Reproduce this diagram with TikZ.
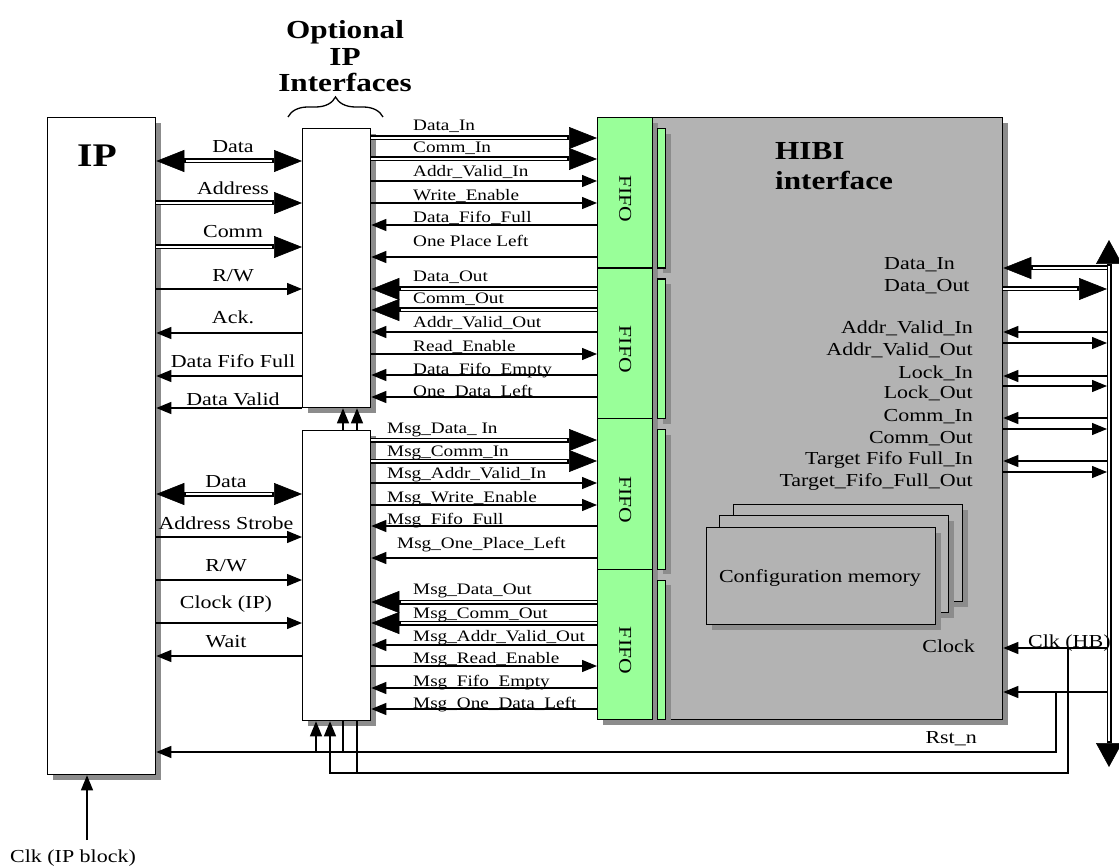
\documentclass[tikz,border=0pt]{standalone}
\usepackage{fontspec}
\setmainfont{Liberation Serif}[FakeStretch=1.2]
\usetikzlibrary{arrows.meta,shadows,decorations.pathreplacing}

\definecolor{fifogreen}{RGB}{153,255,153}
\definecolor{hibigray}{RGB}{179,179,179}

\tikzset{
  hsmall/.tip={Triangle[length=15pt,width=12pt]},
  hbig/.tip={Triangle[length=28pt,width=22pt,line width=0.6pt]},
  hbus/.tip={Triangle[length=24pt,width=26pt,line width=0.6pt]},
  boxshadow/.style={drop shadow={shadow xshift=5pt,shadow yshift=-5pt,opacity=1,fill=black!45}},
  box/.style={draw,line width=1.3pt,fill=white,anchor=north west,inner sep=0pt,boxshadow},
  fifobox/.style={box,fill=fifogreen,minimum width=55pt,minimum height=150.5pt},
  strip/.style={box,fill=fifogreen,minimum width=8pt,minimum height=139.5pt},
  cfgbox/.style={box,fill=hibigray,minimum width=229pt,minimum height=97pt},
  sigN/.style={line width=1.2pt},
  sigR/.style={sigN,-{hsmall}},
  sigL/.style={sigN,{hsmall}-},
  busR/.style={line width=5pt,-{hbig},postaction={draw=white,line width=2.6pt,-,shorten >=30pt}},
  busL/.style={line width=5pt,{hbig}-,postaction={draw=white,line width=2.6pt,-,shorten <=30pt}},
  busLR/.style={line width=5pt,{hbig}-{hbig},postaction={draw=white,line width=2.6pt,-,shorten <=30pt,shorten >=30pt}},
  busV/.style={line width=5pt,{hbus}-{hbus},postaction={draw=white,line width=2.6pt,-,shorten <=26pt,shorten >=26pt}},
  midlbl/.style={font=\fontsize{16}{19}\selectfont,anchor=base west,inner sep=0pt},
  sidelbl/.style={font=\fontsize{18.3}{22}\selectfont,anchor=base,inner sep=0pt},
  hiblbl/.style={font=\fontsize{18.3}{22}\selectfont,anchor=base east,inner sep=0pt},
  title/.style={font=\bfseries\fontsize{26}{30}\selectfont,inner sep=0pt},
}

\begin{document}
\begin{tikzpicture}[x=1pt,y=-1pt]
  \useasboundingbox (0,0) rectangle (1119,866);

  %=====================================================================
  % Blocks
  %=====================================================================
  \node[box,minimum width=108pt,minimum height=657pt] (ip) at (47,117) {};
  \node[box,minimum width=68pt,minimum height=279pt] (ifA) at (302,128) {};
  \node[box,minimum width=68pt,minimum height=290pt] (ifB) at (302,430) {};
  \node[box,fill=hibigray,minimum width=405pt,minimum height=602pt] (hibi) at (597,117) {};

  % FIFO column with thin buffers beside it
  \foreach \i in {1,...,4} {
    \node[fifobox] (fifo\i) at (597,{117+150.5*(\i-1)}) {};
    \node[strip] (buf\i) at (657,{128+150.5*(\i-1)}) {};
    \node[rotate=-90,font=\fontsize{18}{20}\selectfont,inner sep=0pt]
      at ([yshift=-6pt]fifo\i.center) {FIFO};
  }

  % configuration memory (three stacked pages)
  \node[cfgbox] (cfgC) at (733,504) {};
  \node[cfgbox] (cfgB) at (719,515) {};
  \node[cfgbox] (cfgA) at (706,527) {};
  \node[font=\fontsize{18.3}{22}\selectfont,anchor=base,inner sep=0pt]
    at (820,582) {Configuration memory};

  % titles
  \node[font=\bfseries\fontsize{33}{36}\selectfont,anchor=base,inner sep=0pt] at (97,167) {IP};
  \node[title,anchor=base] (optA) at (345,39) {Optional};
  \node[title,anchor=base] (optB) at (345,66) {IP};
  \node[title,anchor=base] (optC) at (345,92) {Interfaces};
  \draw[line width=1.3pt,decorate,decoration={brace,amplitude=20pt}] (288,117) -- (383,117);
  \node[title,anchor=base west] at (775,160) {HIBI};
  \node[title,anchor=base west] at (775,190) {interface};

  %=====================================================================
  % IP <-> optional interfaces
  %=====================================================================
  \foreach \y/\b/\sty/\txt in {161/153/busLR/Data, 203/195/busR/Address,
      247/238/busR/Comm, 289/282/sigR/{R/W}, 333/324/sigL/Ack.,
      376/368/sigL/Data Fifo Full, 408/406/sigL/Data Valid} {
    \draw[\sty] (ip.east |- 0,\y) -- (ifA.west |- 0,\y);
    \node[sidelbl] at (233,\b) {\txt};
  }
  \foreach \y/\b/\sty/\txt in {494/487/busLR/Data, 537/529/sigR/Address Strobe,
      580/571/sigR/{R/W}, 623/608/sigR/Clock (IP), 656/647/sigL/Wait} {
    \draw[\sty] (ip.east |- 0,\y) -- (ifB.west |- 0,\y);
    \node[sidelbl] at (226,\b) {\txt};
  }

  %=====================================================================
  % optional interfaces <-> FIFOs
  %=====================================================================
  \foreach \y/\b/\sty/\txt in {138/131/busR/Data\_In, 159/153/busR/Comm\_In,
      181/177/sigR/Addr\_Valid\_In, 203/201/sigR/Write\_Enable,
      225/223/sigL/Data\_Fifo\_Full, 257/247/sigL/One Place Left,
      289/282/busL/Data\_Out, 310/304/busL/Comm\_Out,
      332/328/sigL/Addr\_Valid\_Out, 354/352/sigR/Read\_Enable,
      375/374/sigL/Data\_Fifo\_Empty, 397/396/sigL/One\_Data\_Left} {
    \draw[\sty] (ifA.east |- 0,\y) -- (hibi.west |- 0,\y);
    \node[midlbl] at (413,\b) {\txt};
  }
  \foreach \y/\b/\x/\sty/\txt in {440/433/387/busR/Msg\_Data\_ In,
      461/456/387/busR/Msg\_Comm\_In, 483/478/387/sigR/Msg\_Addr\_Valid\_In,
      505/502/387/sigR/Msg\_Write\_Enable, 526/524/387/sigL/Msg\_Fifo\_Full,
      558/548/397/sigL/Msg\_One\_Place\_Left, 602/594/413/busL/Msg\_Data\_Out,
      623/618/413/busL/Msg\_Comm\_Out, 645/641/413/sigL/Msg\_Addr\_Valid\_Out,
      666/663/413/sigR/Msg\_Read\_Enable, 688/686/413/sigL/Msg\_Fifo\_Empty,
      709/708/413/sigL/Msg\_One\_Data\_Left} {
    \draw[\sty] (ifB.east |- 0,\y) -- (hibi.west |- 0,\y);
    \node[midlbl] at (\x,\b) {\txt};
  }

  %=====================================================================
  % HIBI <-> bus
  %=====================================================================
  \coordinate (busTop) at (1109,240);
  \coordinate (busBot) at (1109,767);
  \coordinate (busline) at (1107,0);
  \draw[busV] (busTop) -- (busBot);
  \foreach \y/\sty in {268/busL, 289/busR, 332/sigL, 343/sigR, 376/sigL,
      386/sigR, 418/sigL, 429/sigR, 461/sigL, 472/sigR, 648/sigL, 692/sigL}
    \draw[\sty] (hibi.east |- 0,\y) -- (busline |- 0,\y);
  \node[midlbl,font=\fontsize{18.3}{22}\selectfont] at (884,270) {Data\_In};
  \node[midlbl,font=\fontsize{18.3}{22}\selectfont] at (884,292) {Data\_Out};
  \foreach \b/\txt in {334/Addr\_Valid\_In, 356/Addr\_Valid\_Out, 378/Lock\_In,
      399/Lock\_Out, 421/Comm\_In, 443/Comm\_Out, 464/Target Fifo Full\_In,
      486/Target\_Fifo\_Full\_Out}
    \node[hiblbl] at (973,\b) {\txt};
  \node[hiblbl] at (975,652) {Clock};
  \node[hiblbl] at (977,743) {Rst\_n};
  \node[midlbl,font=\fontsize{18.3}{22}\selectfont] at (1028,647) {Clk (HB)};

  %=====================================================================
  % reset and clock distribution
  %=====================================================================
  \coordinate (rstR) at (1056,692);
  \coordinate (clkR) at (1068,648);
  \draw[sigR] (rstR) |- (ip.east |- 0,752);
  \draw[sigR] (clkR) |- (330,773) -- (ifB.south -| 330,0);
  \draw[sigR] (316,752) -- (ifB.south -| 316,0);
  \draw[sigN] (343,752) -- (ifB.south -| 343,0);
  \draw[sigN] (357,773) -- (ifB.south -| 357,0);
  \draw[sigR] (ifB.north -| 343,0) -- (ifA.south -| 343,0);
  \draw[sigR] (ifB.north -| 357,0) -- (ifA.south -| 357,0);

  % clock of the IP block
  \draw[sigR] (87,840) -- (ip.south -| 87,0);
  \node[sidelbl] at (73,862) {Clk (IP block)};

\end{tikzpicture}
\end{document}
